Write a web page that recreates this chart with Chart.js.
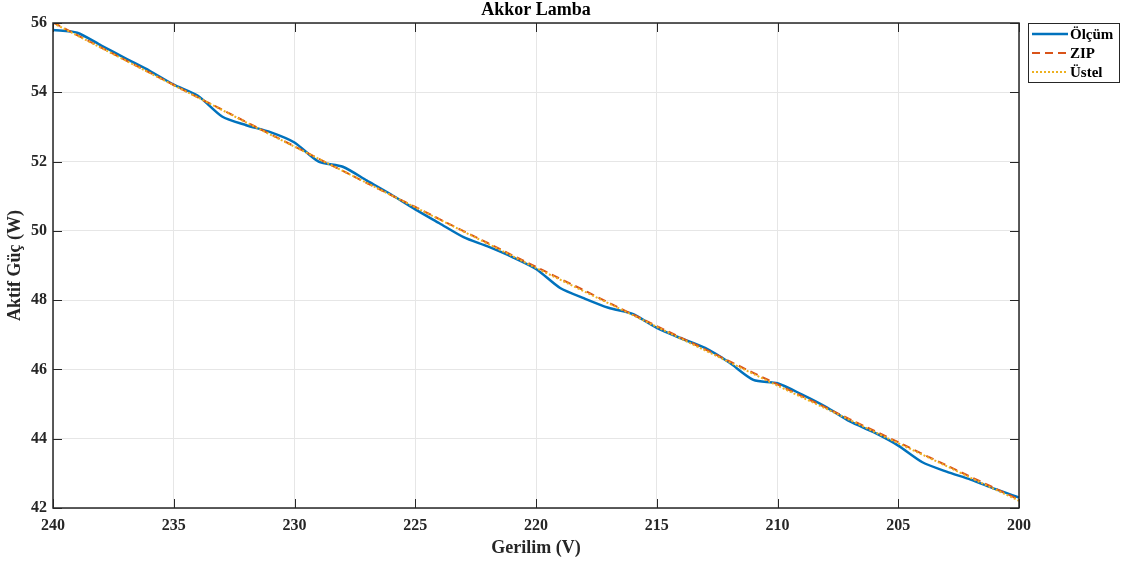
<!DOCTYPE html>
<html>
<head>
<meta charset="utf-8">
<title>Akkor Lamba</title>
<script src="https://cdn.jsdelivr.net/npm/chart.js@4/dist/chart.umd.min.js"></script>
<style>
  html, body { margin: 0; padding: 0; background: #fff; }
  #wrap { width: 1131px; height: 568px; }
</style>
</head>
<body>
<div id="wrap"><canvas id="akkor-chart" width="1131" height="568"></canvas></div>
<script>
// gerilim adimlari (V), 240'tan 200'e
const voltages = [240, 239, 238, 237, 236, 235, 234, 233, 232, 231, 230,
  229, 228, 227, 226, 225, 224, 223, 222, 221, 220,
  219, 218, 217, 216, 215, 214, 213, 212, 211, 210,
  209, 208, 207, 206, 205, 204, 203, 202, 201, 200];

// olculen aktif guc (W)
const measured = [55.80, 55.72, 55.35, 54.98, 54.62, 54.22, 53.90, 53.30, 53.05, 52.85, 52.55,
  52.00, 51.85, 51.45, 51.05, 50.62, 50.22, 49.82, 49.55, 49.25, 48.90,
  48.35, 48.05, 47.78, 47.60, 47.20, 46.90, 46.62, 46.20, 45.70, 45.60,
  45.28, 44.92, 44.50, 44.18, 43.80, 43.32, 43.05, 42.82, 42.55, 42.30];

// ZIP modeli
const zipModel = [56.02, 55.65, 55.29, 54.93, 54.57, 54.21, 53.85, 53.50, 53.14, 52.79, 52.44,
  52.08, 51.73, 51.38, 51.03, 50.69, 50.34, 49.99, 49.65, 49.30, 48.96,
  48.62, 48.28, 47.93, 47.59, 47.25, 46.92, 46.58, 46.24, 45.90, 45.57,
  45.23, 44.90, 44.56, 44.23, 43.90, 43.56, 43.23, 42.90, 42.57, 42.24];

// ustel model
const expModel = [56.00, 55.64, 55.28, 54.92, 54.56, 54.20, 53.85, 53.49, 53.13, 52.78, 52.43,
  52.08, 51.73, 51.38, 51.03, 50.68, 50.33, 49.98, 49.63, 49.28, 48.93,
  48.59, 48.25, 47.91, 47.57, 47.23, 46.89, 46.55, 46.21, 45.87, 45.53,
  45.20, 44.87, 44.54, 44.20, 43.87, 43.54, 43.21, 42.87, 42.54, 42.21];

const xTicks = [240, 235, 230, 225, 220, 215, 210, 205, 200];
const yTicks = [42, 44, 46, 48, 50, 52, 54, 56];

const seriesNames = ["Ölçüm", "ZIP", "Üstel"];

const FONT = "'Liberation Serif', 'Times New Roman', serif";
const AXIS_COLOR = "#262626";

const toPoints = (vals) => vals.map((v, i) => ({ x: voltages[i], y: v }));

// eksen kutusu, iceri dogru tik cizgileri, baslik ve lejant
const matlabFrame = {
  id: "matlabFrame",
  afterDatasetsDraw(chart) {
    const { ctx, chartArea: a, scales } = chart;
    ctx.save();
    ctx.strokeStyle = AXIS_COLOR;
    ctx.lineWidth = 1.5;
    ctx.strokeRect(a.left, a.top, a.right - a.left, a.bottom - a.top);

    ctx.lineWidth = 1;
    const tl = 9;
    ctx.beginPath();
    xTicks.forEach((t) => {
      const px = Math.round(scales.x.getPixelForValue(t)) + 0.5;
      ctx.moveTo(px, a.bottom); ctx.lineTo(px, a.bottom - tl);
      ctx.moveTo(px, a.top); ctx.lineTo(px, a.top + tl);
    });
    yTicks.forEach((t) => {
      const py = Math.round(scales.y.getPixelForValue(t)) + 0.5;
      ctx.moveTo(a.left, py); ctx.lineTo(a.left + tl, py);
      ctx.moveTo(a.right, py); ctx.lineTo(a.right - tl, py);
    });
    ctx.stroke();
    ctx.restore();
  },
  afterDraw(chart) {
    const { ctx, chartArea: a } = chart;
    ctx.save();
    // baslik
    ctx.fillStyle = "#000";
    ctx.font = "bold 18px " + FONT;
    ctx.textAlign = "center";
    ctx.textBaseline = "middle";
    ctx.fillText("Akkor Lamba", (a.left + a.right) / 2, 10);

    // lejant
    const bx = a.right + 9, by = a.top, bw = 91, bh = 59;
    ctx.fillStyle = "#fff";
    ctx.fillRect(bx, by, bw, bh);
    ctx.strokeStyle = AXIS_COLOR;
    ctx.lineWidth = 1;
    ctx.strokeRect(bx + 0.5, by + 0.5, bw, bh);
    ctx.font = "bold 15px " + FONT;
    ctx.textAlign = "left";
    chart.data.datasets.forEach((ds, i) => {
      const y = by + 11 + i * 19;
      ctx.strokeStyle = ds.borderColor;
      ctx.lineWidth = ds.borderWidth;
      ctx.setLineDash(ds.borderDash || []);
      ctx.beginPath();
      ctx.moveTo(bx + 4, y);
      ctx.lineTo(bx + 40, y);
      ctx.stroke();
      ctx.setLineDash([]);
      ctx.fillStyle = "#000";
      ctx.fillText(ds.label, bx + 42, y + 1);
    });
    ctx.restore();
  }
};

const chartConfig = {
  type: "line",
  data: {
    datasets: [
      {
        label: seriesNames[0],
        data: toPoints(measured),
        borderColor: "#0072BD",
        borderWidth: 2.5,
        tension: 0.25,
        pointRadius: 0,
        order: 3,
      },
      {
        label: seriesNames[1],
        data: toPoints(zipModel),
        borderColor: "#D95319",
        borderWidth: 2,
        borderDash: [8, 5],
        pointRadius: 0,
        order: 2,
      },
      {
        label: seriesNames[2],
        data: toPoints(expModel),
        borderColor: "#EDB120",
        borderWidth: 2,
        borderDash: [2, 2],
        pointRadius: 0,
        order: 1,
      },
    ],
  },
  options: {
    responsive: false,
    animation: false,
    layout: { padding: { top: 23, right: 112, left: 0, bottom: 0 } },
    plugins: {
      legend: { display: false },
      tooltip: { enabled: false },
      title: { display: false },
    },
    scales: {
      x: {
        type: "linear",
        min: 200,
        max: 240,
        reverse: true,
        afterFit: (s) => { s.height = 60; },
        afterBuildTicks: (s) => { s.ticks = xTicks.map((v) => ({ value: v })); },
        grid: { color: "#e6e6e6", drawTicks: false },
        border: { display: false },
        ticks: {
          padding: 8,
          color: AXIS_COLOR,
          font: { family: FONT, size: 16, weight: "bold" },
        },
        title: {
          display: true,
          text: "Gerilim (V)",
          color: AXIS_COLOR,
          font: { family: FONT, size: 18, weight: "bold" },
          padding: { top: 0, bottom: 9 },
        },
      },
      y: {
        min: 42,
        max: 56,
        afterFit: (s) => { s.width = 53; },
        afterBuildTicks: (s) => { s.ticks = yTicks.map((v) => ({ value: v })); },
        grid: { color: "#e6e6e6", drawTicks: false },
        border: { display: false },
        ticks: {
          padding: 6,
          color: AXIS_COLOR,
          font: { family: FONT, size: 16, weight: "bold" },
        },
        title: {
          display: true,
          text: "Aktif Güç (W)",
          color: AXIS_COLOR,
          font: { family: FONT, size: 18, weight: "bold" },
          padding: { top: 5, bottom: 0 },
        },
      },
    },
  },
  plugins: [matlabFrame],
};

const myChart = new Chart(document.getElementById("akkor-chart"), chartConfig);
</script>
</body>
</html>
